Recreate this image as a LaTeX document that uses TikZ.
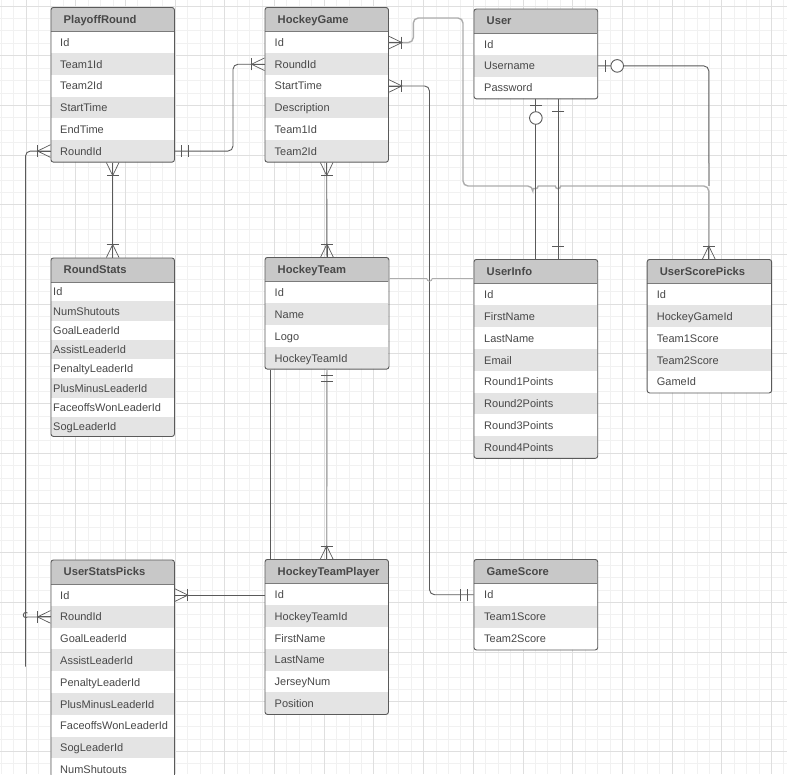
\documentclass[tikz,border=0pt]{standalone}
\usepackage{fontspec}
\setmainfont{Liberation Sans}
\definecolor{gridminor}{HTML}{F1F1F1}
\definecolor{gridmajor}{HTML}{DFDFDF}
\definecolor{headfill}{HTML}{C8C8C8}
\definecolor{altfill}{HTML}{E4E4E4}
\definecolor{inkdark}{HTML}{5A5A5A}
\definecolor{inklight}{HTML}{ADADAD}
\definecolor{inktext}{HTML}{484848}
\tikzset{
  frame/.style={draw=inkdark,line width=0.9pt,rounded corners=2.5pt,fill=none,inner sep=0pt,anchor=north west},
  headcell/.style={fill=headfill,inner sep=0pt,anchor=north west,align=left,text=inktext,font=\fontsize{11.2}{13}\selectfont\bfseries,text height=8pt,text depth=0pt},
  rowcell/.style={inner sep=0pt,anchor=north west,align=left,text=inktext,font=\fontsize{11}{13}\selectfont,text height=8pt,text depth=0pt},
  conn/.style={draw=inkdark,line width=0.9pt,rounded corners=5pt},
  connlight/.style={draw=inklight,line width=1.4pt,rounded corners=5pt},
  connthin/.style={draw=inklight,line width=0.9pt},
  pics/crowf/.style={code={
    \draw[conn,rounded corners=0pt] (0,0)--(13,0);
    \draw[conn,rounded corners=0pt,line width=0.7pt] (0,6.3)--(13,0)--(0,-6.3);
    \draw[conn,rounded corners=0pt] (13,-6)--(13,6);}},
  pics/onebar/.style={code={\draw[conn,rounded corners=0pt] (#1,-6)--(#1,6);}},
  pics/zerocirc/.style={code={\draw[conn,rounded corners=0pt,fill=white] (#1,0) circle[radius=6.3];}},
}
% name, x, top, width, header bottom, row height, title, rows, row text offset
\newcommand{\ertable}[9]{%
  \pgfmathsetmacro{\ttotal}{0}%
  \foreach \t in {#8}{\pgfmathparse{\ttotal+1}\global\let\ttotal\pgfmathresult}%
  \pgfmathsetmacro{\tbot}{#5+\ttotal*#6}%
  \begin{scope}
    \clip[rounded corners=2.5pt] (#2,#3) rectangle (#2+#4,\tbot);
    \fill[white] (#2,#3) rectangle (#2+#4,\tbot);
    \node[headcell,minimum width=#4pt,minimum height={(#5-#3)*1pt},text width={(#4-13)*1pt},xshift=6.5pt] (#1h) at (#2+0,#3) {\hspace*{0pt}#7};
    \fill[headfill] (#2,#3) rectangle (#2+13,#5);
    \foreach \t [count=\i from 0] in {#8}{
      \pgfmathtruncatemacro{\n}{\i+1}
      \pgfmathsetmacro{\ry}{#5+\i*#6}
      \ifodd\i\fill[altfill] (#2,\ry) rectangle (#2+#4,\ry+#6);\fi
      \node[rowcell,minimum width={(#4-#9)*1pt},minimum height=#6*1pt,text width={(#4-#9)*1pt}] (#1\n) at (#2+#9,\ry) {\t};
    }
    \draw[inkdark!80,line width=0.9pt] (#2,#5) -- (#2+#4,#5);
  \end{scope}
  \node[frame,minimum width=#4pt,minimum height={(\tbot-#3)*1pt}] (#1) at (#2,#3) {};
}
\begin{document}
\begin{tikzpicture}[x=1pt,y=-1pt]
\clip (0,0) rectangle (787,774);
\fill[white] (0,0) rectangle (787,774);
% grid
\foreach \k in {0,...,63}{
  \draw[gridminor,line width=0.9pt] (1.15+\k*12.425,0) -- (1.15+\k*12.425,774);
  \draw[gridminor,line width=0.9pt] (0,6-12.425+\k*12.425) -- (787,6-12.425+\k*12.425);
}
\foreach \k in {0,...,15}{
  \draw[gridmajor,line width=0.9pt] (26+\k*49.7,0) -- (26+\k*49.7,774);
  \draw[gridmajor,line width=0.9pt] (0,6+\k*49.7) -- (787,6+\k*49.7);
}
% tables
\begin{scope}[shift={(-0.5,-0.5)}]
\ertable{pr}{51}{7.5}{123.5}{32}{21.7}{PlayoffRound}{Id,Team1Id,Team2Id,StartTime,EndTime,RoundId}{9.5}
\ertable{hg}{265}{7.5}{123.5}{32}{21.7}{HockeyGame}{Id,RoundId,StartTime,Description,Team1Id,Team2Id}{10}
\ertable{us}{474}{9}{123.8}{33.5}{21.8}{User}{Id,Username,Password}{10.5}
\ertable{rs}{51}{258}{123.5}{282.5}{19.25}{RoundStats}{Id,NumShutouts,GoalLeaderId,AssistLeaderId,PenaltyLeaderId,PlusMinusLeaderId,FaceoffsWonLeaderId,SogLeaderId}{2.5}
\ertable{ht}{265}{257.5}{124}{282}{21.8}{HockeyTeam}{Id,Name,Logo,HockeyTeamId}{10}
\ertable{ui}{474}{259.5}{123.8}{284}{21.8}{UserInfo}{Id,FirstName,LastName,Email,Round1Points,Round2Points,Round3Points,Round4Points}{10.5}
\ertable{sp}{647.2}{259.5}{124.5}{284}{21.8}{UserScorePicks}{Id,HockeyGameId,Team1Score,Team2Score,GameId}{10}
\ertable{st}{51}{560}{123.5}{584.5}{21.8}{UserStatsPicks}{Id,RoundId,GoalLeaderId,AssistLeaderId,PenaltyLeaderId,PlusMinusLeaderId,FaceoffsWonLeaderId,SogLeaderId,NumShutouts}{9.5}
\ertable{tp}{265}{559.5}{123.5}{584}{21.75}{HockeyTeamPlayer}{Id,HockeyTeamId,FirstName,LastName,JerseyNum,Position}{10}
\ertable{gs}{474}{559.5}{123.8}{584}{22}{GameScore}{Id,Team1Score,Team2Score}{10.5}
\end{scope}
% waypoints
\coordinate (w1) at (233,100);
\coordinate (w2a) at (413.3,18);
\coordinate (w2b) at (463,186);
\coordinate (w2c) at (532.8,186);
\coordinate (w2e) at (555.3,186);
\coordinate (w2f) at (570,186);
\coordinate (w2g) at (708.8,186);
\coordinate (w2h) at (708.8,259);
\coordinate (w3) at (429.5,300);
\coordinate (w4a) at (426.8,278.5);
\coordinate (w4b) at (432.2,278.5);
\coordinate (w5a) at (25.5,400);
\coordinate (w5b) at (25.5,666.7);
\coordinate (w6) at (27.5,617);
\coordinate (w7) at (708.8,163);
% connectors
\draw[conn] (pr.south) -- (rs.north);
\pic[rotate=-90] at (pr.south) {crowf};
\pic[rotate=90] at (rs.north) {crowf};
\draw[conn] (pr6.east -| pr.east) -| (w1) |- (hg2.west -| hg.west);
\pic at (pr6.east -| pr.east) {onebar=7};
\pic at (pr6.east -| pr.east) {onebar=13.5};
\pic[rotate=180] at (hg2.west -| hg.west) {crowf};
\draw[connlight] (hg1.east -| hg.east) -| (w2a) -| (w2b) -- (w2c) [sharp corners] arc[start angle=180,end angle=0,radius=2.7] -- (w2e) arc[start angle=180,end angle=0,radius=2.7] -- (w2f) [rounded corners=5pt] -- (w2g) -- (w2h);
\pic at (hg1.east -| hg.east) {crowf};
\draw[conn] (hg3.east -| hg.east) -| (w3) |- (gs1.west -| gs.west);
\pic at (hg3.east -| hg.east) {crowf};
\pic[rotate=180] at (gs1.west -| gs.west) {onebar=13};
\pic[rotate=180] at (gs1.west -| gs.west) {onebar=6.5};
\draw[conn] (hg.south) -- (ht.north);
\pic[rotate=-90] at (hg.south) {crowf};
\pic[rotate=90] at (ht.north) {crowf};
\draw[connthin] (ht.east |- w4a) -- (w4a) arc[start angle=180,end angle=0,radius=2.7] -- (w4b -| ui.west);
\draw[connlight] (w7) -- (w2g);
\draw[conn] (us2.east -| us.east) -| (w7);
\pic at (us2.east -| us.east) {onebar=6.8};
\pic at (us2.east -| us.east) {zerocirc=19};
\pic[rotate=90] at (w2h) {crowf};
\draw[conn] (us.south) -- (ui.north);
\pic[rotate=-90] at (us.south) {onebar=6.3};
\pic[rotate=-90] at (us.south) {zerocirc=18.7};
\draw[conn] ([xshift=22.5pt]us.south) -- ([xshift=22.5pt]ui.north);
\pic[rotate=-90] at ([xshift=22.5pt]us.south) {onebar=12.3};
\pic[rotate=90] at ([xshift=22.5pt]ui.north) {onebar=13};
\draw[connlight] (ht.south) -- (tp.north);
\pic[rotate=-90] at (ht.south) {onebar=6};
\pic[rotate=-90] at (ht.south) {onebar=12.3};
\pic[rotate=90] at (tp.north) {crowf};
\draw[conn] (pr6.west -| pr.west) -| (w5a) -- (w5b);
\pic[rotate=180] at (pr6.west -| pr.west) {crowf};
\draw[conn,sharp corners] (st2.west -| st.west) -- (w6) arc[start angle=50,end angle=310,radius=2.6];
\pic[rotate=180] at (st2.west -| st.west) {crowf};
\draw[conn] (st1.east -| st.east) -- (st1.east -| tp.west);
\pic at (st1.east -| st.east) {crowf};
\draw[conn] ([xshift=-56.3pt]ht.south) -- ([xshift=-56.3pt]ht.south |- tp.north);
\end{tikzpicture}
\end{document}
